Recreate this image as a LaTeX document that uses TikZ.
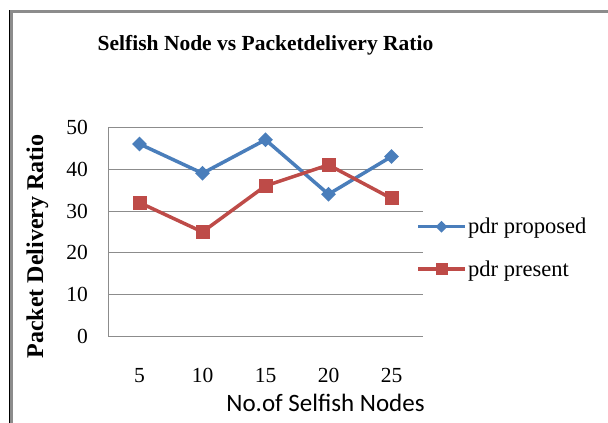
\documentclass[tikz,border=0pt]{standalone}
\usepackage{fontspec}
\setmainfont{Liberation Serif}
\newfontfamily\calfont{Carlito}
\usetikzlibrary{shapes.geometric}
\definecolor{serblue}{HTML}{4A7EBB}
\definecolor{serred}{HTML}{BE4B48}
\definecolor{gridgray}{HTML}{8C8C8C}
\tikzset{
  grid line/.style={draw=gridgray, line width=1pt},
  tick lbl/.style={font=\fontsize{21.5}{21.5}\selectfont, inner sep=0pt},
  bluemark/.style={diamond, fill=serblue, inner sep=0pt, minimum width=15pt, minimum height=15pt},
  redmark/.style={rectangle, fill=serred, inner sep=0pt, minimum size=14pt},
  bluelegmark/.style={diamond, fill=serblue, inner sep=0pt, minimum width=12pt, minimum height=12pt},
  redlegmark/.style={rectangle, fill=serred, inner sep=0pt, minimum size=12pt},
  blueline/.style={draw=serblue, line width=3.5pt},
  redline/.style={draw=serred, line width=3.5pt},
  legend lbl/.style={font=\fontsize{22.5}{22.5}\selectfont, anchor=base west, inner sep=0pt},
}
\begin{document}
\begin{tikzpicture}[x=1pt,y=-1pt]
\useasboundingbox (0,0) rectangle (608,423);
\fill[white] (0,0) rectangle (608,423);
% frame
\draw[gridgray, line width=3pt] (11.5,423) -- (11.5,11.5) -- (608,11.5);
\draw[black, line width=1.2pt] (9.3,10) -- (9.3,423);
% title
\node[font=\fontsize{21.5}{21.5}\selectfont\bfseries, anchor=base, inner sep=0pt] (title) at (265.5,50) {Selfish Node vs Packetdelivery Ratio};
% grid
\foreach \v in {0,10,...,50} {
  \pgfmathsetmacro{\yy}{336.7-\v*4.19}
  \draw[grid line] (108,\yy) -- (423,\yy);
  \node[tick lbl, anchor=east] (yl\v) at (88,\yy) {\v};
}
\draw[grid line] (108,127.2) -- (108,337.2);
% x labels
\foreach \lbl [count=\i from 0] in {5,10,15,20,25} {
  \node[tick lbl, anchor=base] (xl\i) at ({139.5+63*\i},382) {\lbl};
}
% axis titles
\node[font=\fontsize{24}{24}\selectfont\bfseries, rotate=90, anchor=base, inner sep=0pt] (ytitle) at (43,246.5) {Packet Delivery Ratio};
\node[font=\calfont\fontsize{25}{25}\selectfont, anchor=base, inner sep=0pt] (xtitle) at (325.5,411) {No.of Selfish Nodes};
% data
\foreach \v [count=\i from 0] in {46,39,47,34,43} {
  \coordinate (b\i) at ({139.5+63*\i},{336.7-\v*4.19});
}
\foreach \v [count=\i from 0] in {32,25,36,41,33} {
  \coordinate (r\i) at ({139.5+63*\i},{336.7-\v*4.19});
}
\draw[blueline, line join=round] (b0) -- (b1) -- (b2) -- (b3) -- (b4);
\draw[redline, line join=round] (r0) -- (r1) -- (r2) -- (r3) -- (r4);
\foreach \i in {0,...,4} {
  \node[bluemark] (bm\i) at (b\i) {};
}
\foreach \i in {0,...,4} {
  \node[redmark] (rm\i) at (r\i) {};
}
% legend
\coordinate (lb1) at (418,226.7);
\coordinate (lb2) at (465,226.7);
\coordinate (lr1) at (418,269);
\coordinate (lr2) at (465,269);
\draw[blueline] (lb1) -- (lb2);
\draw[redline] (lr1) -- (lr2);
\node[bluelegmark] (lbm) at (441.5,226.7) {};
\node[redlegmark] (lrm) at (441.5,269) {};
\node[legend lbl] (lbt) at (468,233) {pdr proposed};
\node[legend lbl] (lrt) at (468,276.5) {pdr present};
\end{tikzpicture}
\end{document}
